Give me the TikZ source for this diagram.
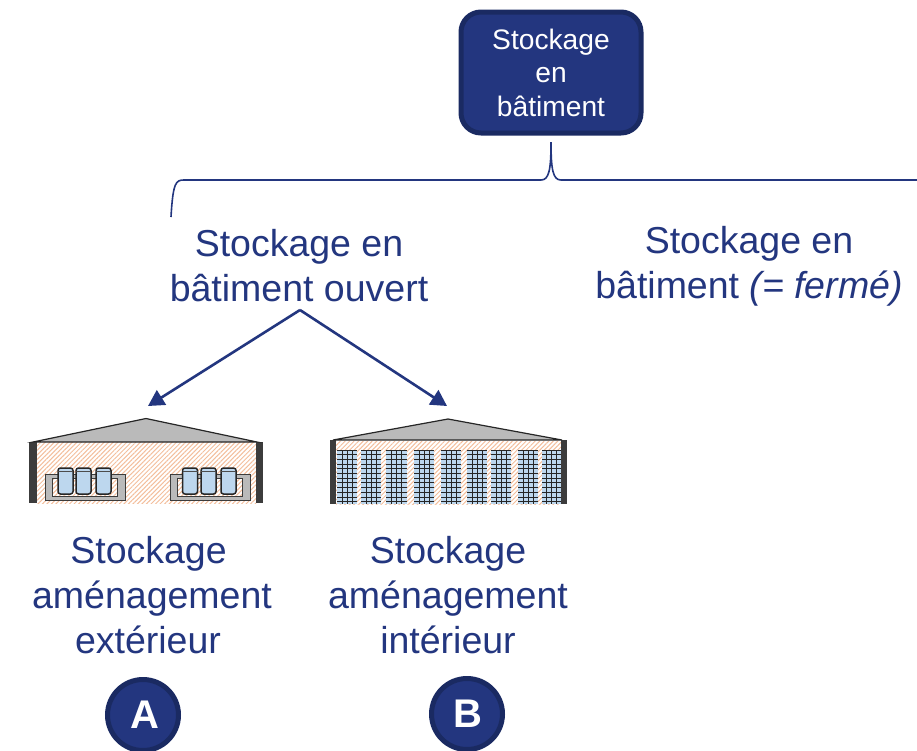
\documentclass[tikz,border=0pt]{standalone}
\usepackage{fontspec}
\setmainfont{Liberation Sans}
\usetikzlibrary{patterns.meta,arrows.meta}
\definecolor{navy}{HTML}{23367F}
\definecolor{navydark}{HTML}{1A2A62}
\definecolor{wall}{HTML}{3C3C3C}
\definecolor{roof}{HTML}{BABABA}
\definecolor{hatch}{HTML}{F3BE9C}
\definecolor{drum}{HTML}{BDD7EE}
\tikzset{
  x=1pt,y=-1pt,
  label text/.style={text=navy,align=center,inner sep=0pt,font=\fontsize{37.5}{45}\selectfont},
  badge/.style={circle,draw=navydark,fill=navy,line width=5pt,minimum size=71pt,inner sep=0pt},
  badge text/.style={inner sep=0pt,text=white,font=\fontsize{40}{40}\selectfont\bfseries},
  topbox/.style={draw=navydark,fill=navy,line width=5pt,rounded corners=20pt,minimum width=180pt,minimum height=121pt,inner sep=0pt,align=center,text=white,font=\fontsize{28.2}{33.5}\selectfont},
  link/.style={navy,line width=1.6pt},
  arrowlink/.style={navy,line width=2.6pt,-{Triangle[length=16pt,width=17pt]}},
  hatched/.style={pattern={Lines[angle=45,distance=3.2pt,line width=1pt]},pattern color=hatch},
  rack/.style={fill=roof,draw=wall,line width=.8pt},
  cyl/.style={fill=drum,draw=black!85,line width=1.5pt,rounded corners=2.5pt},
  roofshape/.style={fill=roof,draw=black!85,line width=1.2pt},
  wallshape/.style={fill=wall},
  shelf/.style={black!85,line width=1pt},
}
\begin{document}
\begin{tikzpicture}
\useasboundingbox (0,0) rectangle (917,750);
% top box
\node[topbox] (top) at (551,72.5) {Stockage\\en\\bâtiment};
% labels
\node[label text] (open) at (299,265.5) {Stockage en\\bâtiment ouvert};
\node[label text] (closed) at (749,266) {Stockage en\\bâtiment \textit{(= fermé)}};
\node[label text] (extl) at (152,595) {\mbox{Stockage\kern7pt}\\aménagement\\\mbox{extérieur\kern8pt}};
\node[label text] (intl) at (448,595) {Stockage\\aménagement\\intérieur};
\node[badge] (A) at (143,715) {};
\node[badge] (B) at (467,714) {};
\node[badge text] (Atext) at (145,715) {A};
\node[badge text] (Btext) at (468,714) {B};
% bracket
\coordinate (brtop) at (551,142);
\coordinate (brleft) at (171,217);
\coordinate (brright) at (917,180);
\draw[link] (brtop) .. controls (551,170) and (549,180) .. (541,180) -- (184,180)
  .. controls (176,180) and (173,182) .. (brleft);
\draw[link] (brtop) .. controls (551,170) and (553,180) .. (561,180) -- (brright);
% arrows
\coordinate (split) at (300,310);
\coordinate (bldA) at (148,406);
\coordinate (bldB) at (447,406);
\draw[arrowlink] (split) -- (bldA);
\draw[arrowlink] (split) -- (bldB);
% building A
\fill[hatched] (37,442) rectangle (256,503);
\foreach \rx in {45,170}{
  \begin{scope}[shift={(\rx,0)}]
    \fill[rack,even odd rule] (0,474) rectangle (80,500) (7,478) rectangle (72,496);
  \end{scope}
}
\foreach \cx in {58,76,96,182.5,201,221}{
  \draw[cyl] (\cx,468) rectangle (\cx+15,494);
  \draw[black!70,line width=.7pt] (\cx,471) -- (\cx+15,471);
}
\fill[wallshape] (29,442) rectangle (37,503);
\fill[wallshape] (256,442) rectangle (263,503);
\draw[roofshape] (33,442) -- (146,418.5) -- (257,442) -- cycle;
% building B
\fill[hatched] (336,441) rectangle (561,504);
\foreach \cx/\cw in {337/20,361/20,386/21,414/20,441/20,467/20,491/20,518/20,542/19}{
  \fill[drum] (\cx,450) rectangle (\cx+\cw,504);
  \foreach \k in {0,1,2,3,4,5,6,7,8,9,10,11}{
    \draw[shelf] (\cx,450+\k*4.7) -- (\cx+\cw,450+\k*4.7);
  }
  \foreach \k in {1,2,3}{
    \draw[shelf] (\cx+\k*\cw/4,450) -- (\cx+\k*\cw/4,504);
  }
}
\fill[wallshape] (330,440) rectangle (336,504);
\fill[wallshape] (561,440) rectangle (567,504);
\draw[roofshape] (333,440) -- (448,419) -- (562,440) -- cycle;
\end{tikzpicture}
\end{document}
